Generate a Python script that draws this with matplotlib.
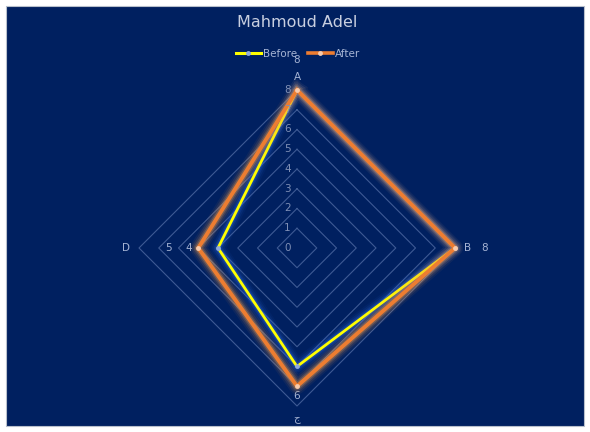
import numpy as np
import matplotlib
matplotlib.use("Agg")
import matplotlib.pyplot as plt
from matplotlib.patches import Rectangle
from matplotlib.lines import Line2D

# chart data
categories = ["A", "B", "ج", "D"]
before = [8, 8, 6, 4]
after = [8, 8, 7, 5]
ring_levels = [1, 2, 3, 4, 5, 6, 7, 8]
tick_labels = ["0", "1", "2", "3", "4", "5", "6", "7", "8"]

navy = "#002060"
grid_col = "#3E5A94"
text_col = "#A6B4D4"

fig = plt.figure(figsize=(5.9, 4.32), dpi=100, facecolor="white")
fig.patches.append(Rectangle((6 / 590, 6 / 432), 578 / 590, 420 / 432,
                             transform=fig.transFigure, facecolor=navy,
                             edgecolor="#B8C0CC", linewidth=0.8, zorder=-10))

ax = fig.add_axes([0.2356, 0.0602, 0.5356, 0.7315], projection="polar")
ax.set_facecolor("none")
ax.set_theta_offset(np.pi / 2)
ax.set_theta_direction(-1)
ax.set_ylim(0, 8)
ax.grid(False)
ax.spines["polar"].set_visible(False)
ax.set_xticks([])
ax.set_yticks([])

angles = np.linspace(0, 2 * np.pi, len(categories), endpoint=False)
closed = np.append(angles, angles[0])

# diamond grid rings
for lvl in ring_levels:
    ax.plot(closed, [lvl] * len(closed), color=grid_col, lw=0.8, zorder=1,
            clip_on=False)

# radial axis labels along A
for i, t in enumerate(tick_labels):
    ax.annotate(t, xy=(0, i), xytext=(-7, 0), textcoords="offset points",
                ha="center", va="center", color="#7F8FB5", fontsize=7.5,
                zorder=8)

# category labels
for a, c in zip(angles, categories):
    ax.text(a, 8.65, c, ha="center", va="center", color=text_col, fontsize=7.5)


def glow_line(vals, color, glow, lw, mcolor, z):
    v = np.append(vals, vals[0])
    for w, al in [(lw + 9, 0.06), (lw + 6.5, 0.1), (lw + 4, 0.16), (lw + 2, 0.28)]:
        ax.plot(closed, v, color=glow, lw=w, alpha=al, zorder=z,
                solid_joinstyle="round", clip_on=False)
    ax.plot(closed, v, color=color, lw=lw, zorder=z + 0.5,
            solid_joinstyle="round", clip_on=False)
    ax.plot(angles, vals, "o", color=mcolor, ms=3.5, mec="none", zorder=z + 0.6,
            clip_on=False)


glow_line(before, "#FFFF00", "#2E6BE0", 2.0, "#8FAADC", 3)
glow_line(after, "#ED7D31", "#F6A04D", 2.8, "#F8CBAD", 5)

# data labels
for a, v in zip(angles, before):
    ax.text(a, v + 1.5, str(v), ha="center", va="center", color=text_col, fontsize=7.5)
ax.text(angles[3], after[3] + 1.5, str(after[3]), ha="center", va="center",
        color=text_col, fontsize=7.5)

fig.text(0.503, 0.948, "Mahmoud Adel", ha="center", va="center",
         color="#C8CFE0", fontsize=11.5)

handles = [
    Line2D([], [], color="#FFFF00", lw=2.2, marker="o", ms=3.5,
           mfc="#8FAADC", mec="none"),
    Line2D([], [], color="#ED7D31", lw=2.6, marker="o", ms=3.5,
           mfc="#F8CBAD", mec="none"),
]
leg = fig.legend(handles, ["Before", "After"], loc="center", ncol=2,
                 bbox_to_anchor=(0.505, 0.875), frameon=False, fontsize=7.5,
                 handlelength=2.4, handletextpad=0.2, columnspacing=1.0)
for t in leg.get_texts():
    t.set_color(text_col)

fig.savefig("out.png", dpi=100, facecolor="white")
